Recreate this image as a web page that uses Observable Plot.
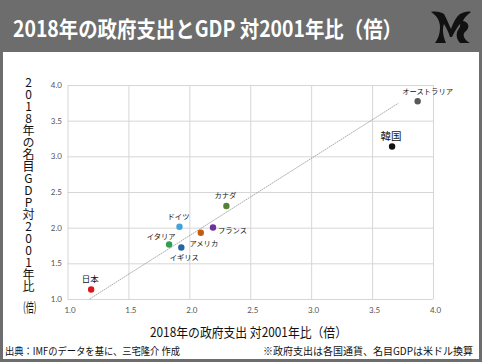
<!DOCTYPE html>
<html><head><meta charset="utf-8">
<script src="https://cdn.jsdelivr.net/npm/d3@7"></script>
<script src="https://cdn.jsdelivr.net/npm/@observablehq/plot@0.6"></script>
<style>
html,body{margin:0;padding:0;background:#fff;}
#frame{position:relative;width:482px;height:362px;overflow:hidden;font-family:"Noto Sans CJK JP","Noto Sans",sans-serif;background:#fff;}
#header{position:absolute;left:0;top:0;width:482px;height:52px;background:#6d6d6d;}
.fit{position:absolute;white-space:nowrap;transform-origin:0 50%;line-height:1;}
#title{left:13px;top:16px;color:#fff;font-weight:700;font-size:22px;}
#logo{position:absolute;left:430px;top:9px;}
#ytitle{position:absolute;left:21px;top:76px;writing-mode:vertical-rl;text-orientation:upright;font-size:12px;line-height:14px;color:#111;white-space:nowrap;}
#ylast{position:absolute;left:20px;top:298px;width:16px;text-align:center;font-size:13px;line-height:18px;height:18px;color:#111;transform:scaleX(0.62);transform-origin:50% 50%;white-space:nowrap;}
#xtitle{left:150px;top:325px;font-size:13px;color:#111;}
#srcl{left:5px;top:346px;font-size:10.5px;color:#111;}
#srcr{left:263px;top:346px;font-size:10.5px;color:#111;}
#border{position:absolute;left:0;top:0;width:482px;height:362px;box-sizing:border-box;border:3px solid #6d6d6d;pointer-events:none;}
#chart{position:absolute;left:0;top:50px;}
</style></head>
<body>
<div id="frame">
  <div id="header"></div>
  <span id="title" class="fit" data-w="389">2018年の政府支出とGDP 対2001年比（倍）</span>
  <svg id="logo" width="42" height="36" viewBox="0 0 42 36">
    <path d="M1,3 C6,2 11,3 14,5 C17,10 19,16 21,20 C23,14 26,8 30,5 C34,3 38,2 41,3 C37,6 34,9 33,12 C38,13 40,17 37,21 C35,23 33,24 34,28 C35,31 38,33 40,34 L30,34 C27,31 26,27 27,23 C28,20 31,18 30,15 C28,17 25,22 22,28 L20,28 C18,22 16,18 14,15 C12,20 13,27 16,34 L5,34 C8,30 10,25 10,18 C10,11 6,6 1,3 Z" fill="#111"/>
  </svg>
  <div id="chart"></div>
  <div id="ytitle"></div>
  <div id="ylast"></div>
  <span id="xtitle" class="fit" data-w="197">2018年の政府支出 対2001年比（倍）</span>
  <span id="srcl" class="fit" data-w="175">出典：IMFのデータを基に、三宅隆介 作成</span>
  <span id="srcr" class="fit" data-w="210">※政府支出は各国通貨、名目GDPは米ドル換算</span>
  <div id="border"></div>
</div>
<script>
// ---- data ----
const countries   = ["日本","オーストラリア","韓国","カナダ","ドイツ","フランス","アメリカ","イタリア","イギリス"];
const govSpending = [1.19, 3.87, 3.66, 2.30, 1.915, 2.19, 2.09, 1.83, 1.93];
const nominalGDP  = [1.14, 3.78, 3.145, 2.31, 2.02, 2.01, 1.935, 1.77, 1.73];
const labelSide   = ["above","aboveRight","above","above","above","right","below","aboveLeft","below"];
const trendX = [1.18, 3.71];
const trendY = [1.01, 3.75];
const axisTicks = [1.0, 1.5, 2.0, 2.5, 3.0, 3.5, 4.0];
const yTitleMain = "2018年の名目GDP対2001年比";
const yTitleLast = "(倍)";

// ---- styles ----
const palette = ["#e0141c","#5a5a5a","#111111","#548235","#3fa4de","#7030a0","#c55a11","#2e9e4f","#2566a8"];
const offsets = {
  above: {dx: -1, dy: -10, anchor: "middle"},
  aboveRight: {dx: 10, dy: -10, anchor: "middle"},
  aboveLeft: {dx: -8, dy: -8, anchor: "middle"},
  right: {dx: 5, dy: 3, anchor: "start"},
  below: {dx: 3, dy: 10.5, anchor: "middle"}
};

const rows = countries.map((c, i) => ({country: c, x: govSpending[i], y: nominalGDP[i], side: labelSide[i]}));
const trend = trendX.map((x, i) => ({x, y: trendY[i]}));

const labelMarks = Object.entries(offsets).map(([side, o]) =>
  Plot.text(rows.filter(d => d.side === side), {
    x: "x", y: "y", text: "country", dx: o.dx, dy: o.dy, textAnchor: o.anchor,
    fontSize: d => d.country === "韓国" ? 10.5 : (d.country === "日本" ? 8.5 : 7.3),
    fontWeight: d => d.country === "韓国" ? 400 : 700,
    fill: "#111", fontFamily: "Noto Sans CJK JP"
  })
);

const chart = Plot.plot({
  width: 482, height: 300,
  marginLeft: 67.5, marginRight: 49, marginTop: 35, marginBottom: 51,
  style: {background: "transparent", fontFamily: "Lato, sans-serif"},
  x: {domain: [1, 4], ticks: axisTicks},
  y: {domain: [1, 4], ticks: axisTicks},
  color: {domain: countries, range: palette},
  marks: [
    Plot.gridX(axisTicks, {stroke: "#d6d6d6", strokeOpacity: 1, strokeWidth: 1}),
    Plot.gridY(axisTicks, {stroke: "#d6d6d6", strokeOpacity: 1, strokeWidth: 1}),
    Plot.axisX(axisTicks, {tickSize: 0, tickPadding: 8, fontSize: 8, fill: "#555", tickFormat: d3.format(".1f"), label: null, dx: 2}),
    Plot.axisY(axisTicks, {tickSize: 0, tickPadding: 6, fontSize: 8, fill: "#555", tickFormat: d3.format(".1f"), label: null}),
    Plot.line(trend, {x: "x", y: "y", stroke: "#8a8a8a", strokeWidth: 0.7, strokeDasharray: "1,1.4"}),
    Plot.dot(rows, {x: "x", y: "y", fill: "country", r: 3.2, stroke: "none"}),
    ...labelMarks
  ]
});
document.getElementById("chart").appendChild(chart);

document.getElementById("ytitle").textContent = yTitleMain;
document.getElementById("ylast").textContent = yTitleLast;

// fit text widths
document.querySelectorAll(".fit").forEach(el => {
  const target = +el.dataset.w;
  const w = el.getBoundingClientRect().width;
  if (w > 0) el.style.transform = `scaleX(${target / w})`;
});
</script>
</body></html>
